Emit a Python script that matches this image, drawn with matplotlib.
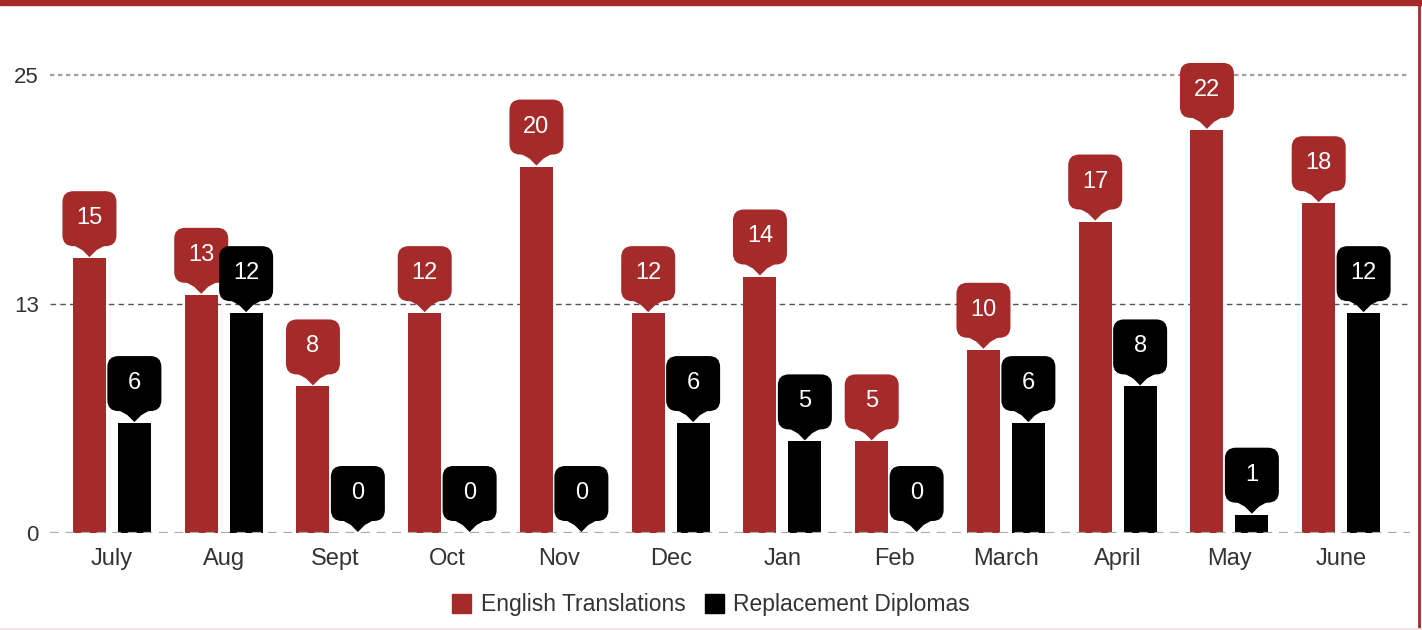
import numpy as np
import matplotlib
matplotlib.use("Agg")
import matplotlib.pyplot as plt
import matplotlib.transforms as mtransforms
from matplotlib.patches import FancyBboxPatch, Polygon, Rectangle, Patch
from matplotlib.lines import Line2D

months = ['July', 'Aug', 'Sept', 'Oct', 'Nov', 'Dec', 'Jan', 'Feb', 'March', 'April', 'May', 'June']
english_translations = [15, 13, 8, 12, 20, 12, 14, 5, 10, 17, 22, 18]
replacement_diplomas = [6, 12, 0, 0, 0, 6, 5, 0, 6, 8, 1, 12]
series_names = ['English Translations', 'Replacement Diplomas']
y_ticks = [0, 12.5, 25]
y_tick_labels = ['0', '13', '25']

RED = '#A52A2A'
BLACK = '#000000'
TEXT = '#333333'

plt.rcParams['font.family'] = ['Liberation Sans', 'DejaVu Sans']

W, H = 1422, 630
fig = plt.figure(figsize=(W / 100, H / 100), dpi=100)
ax = fig.add_axes([50 / W, 97 / H, 1360 / W, 513 / H])

x = np.arange(len(months))
bar_w = 0.295
offset = 0.201
ax.bar(x - offset, english_translations, width=bar_w, color=RED, zorder=3)
ax.bar(x + offset, replacement_diplomas, width=bar_w, color=BLACK, zorder=3)

ax.set_xlim(-0.554, 11.616)
ax.set_ylim(0, 28)

# grid lines
ax.axhline(25, color='#a0a0a0', lw=1.6, dashes=(2, 1.6), zorder=1)
ax.axhline(12.5, color='#555555', lw=1.0, dashes=(4, 3), zorder=1)
ax.axhline(0, color='#aaaaaa', lw=1.6, dashes=(4, 3), zorder=4)

ax.set_yticks(y_ticks)
ax.set_yticklabels(y_tick_labels)
ax.set_xticks(x)
ax.set_xticklabels(months)
ax.tick_params(axis='both', length=0, labelcolor=TEXT)
ax.tick_params(axis='y', pad=8, labelsize=16)
ax.tick_params(axis='x', pad=11, labelsize=17)
for s in ax.spines.values():
    s.set_visible(False)


def callout(xc, v, color):
    # callout shape in pixels, tip at the bar top
    shape = mtransforms.Affine2D().scale(fig.dpi / 100.0)
    trans = shape + mtransforms.ScaledTranslation(xc, v, ax.transData)
    box = FancyBboxPatch((-27, 12), 54, 55, boxstyle='round,pad=0,rounding_size=11',
                         fc=color, ec='none', transform=trans, clip_on=False, zorder=5)
    tri = Polygon([(-16, 13), (-7, 8), (0, 1), (7, 8), (16, 13)], closed=True,
                  fc=color, ec='none', transform=trans, clip_on=False, zorder=5)
    ax.add_patch(box)
    ax.add_patch(tri)
    ax.annotate(str(v), xy=(xc, v), xytext=(0, 40 * 0.72), textcoords='offset points',
                ha='center', va='center', color='white', fontsize=17, zorder=6)


for i in range(len(months)):
    callout(x[i] - offset, english_translations[i], RED)
    callout(x[i] + offset, replacement_diplomas[i], BLACK)

handles = [Patch(color=RED), Patch(color=BLACK)]
fig.legend(handles, series_names, loc='center', bbox_to_anchor=(0.5, 1 - 605 / H), ncol=2,
           frameon=False, fontsize=16.5, handlelength=0.85, handleheight=0.85,
           handletextpad=0.4, columnspacing=0.85, labelcolor=TEXT)

# frame decoration
fig.patches.append(Rectangle((0, 1 - 5 / H), 1, 5 / H, transform=fig.transFigure,
                             color=RED, zorder=10))
fig.lines.append(Line2D([1419 / W, 1419 / W], [0, 1], transform=fig.transFigure,
                        color=RED, lw=2, zorder=10))
fig.lines.append(Line2D([0, 1], [1.5 / H, 1.5 / H], transform=fig.transFigure,
                        color='#f3e4e8', lw=2, zorder=10))

fig.savefig('out.png', dpi=100)
